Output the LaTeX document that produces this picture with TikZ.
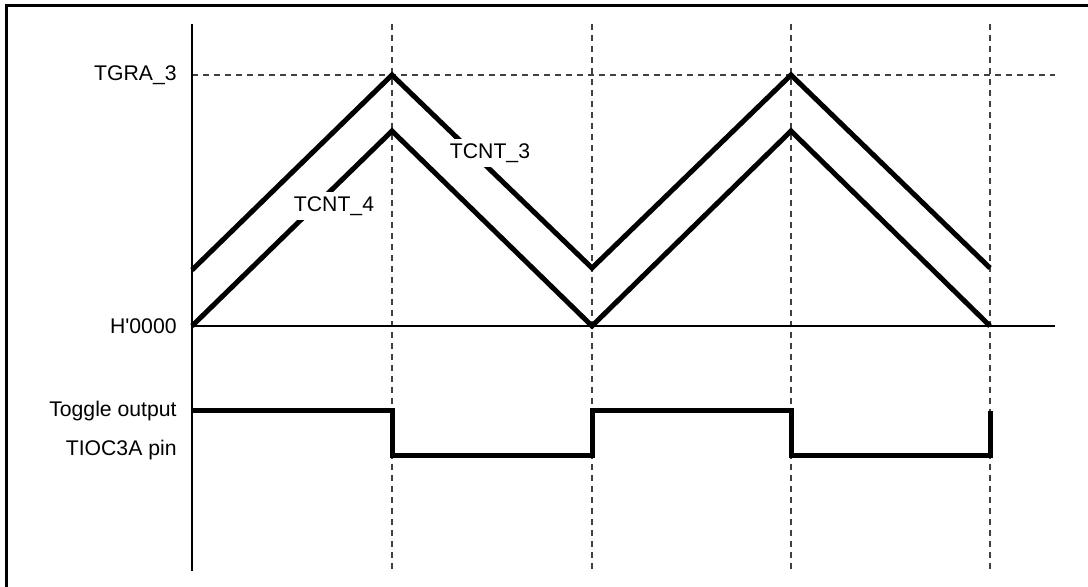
\documentclass[tikz,border=0pt]{standalone}
\usepackage{fontspec}
\setmainfont{Liberation Sans}
\begin{document}
\begin{tikzpicture}[x=0.5pt,y=-0.5pt,
  axisline/.style={line width=0.75pt,black},
  guide/.style={line width=0.75pt,black!75,dash pattern=on 3pt off 2.5pt},
  wave/.style={line width=2.5pt,black},
  lbl/.style={font=\fontsize{10.6}{12}\selectfont,inner sep=0pt,anchor=east},
  wavelbl/.style={font=\fontsize{10.6}{12}\selectfont,fill=white,inner sep=2pt}]
\useasboundingbox (0,0) rectangle (1088,587);
% frame
\draw[line width=1.5pt] (6,587) -- (6,6) -- (1088,6);
% guides
\foreach \x in {392,592,791,990} \draw[guide] (\x,24) -- (\x,571);
\draw[guide] (192,75) -- (1055,75);
% axes
\draw[axisline] (192,24) -- (192,571);
\draw[axisline] (192,326) -- (1055,326);
% waves
\draw[wave] (192,270) -- (392,75) -- (592,268) -- (791,75) -- (990,268);
\draw[wave] (192,326) -- (392,131) -- (592,326) -- (791,131) -- (990,326);
\draw[wave] (192,411) -- (392,411) -- (392,456) -- (592,456) -- (592,411) -- (791,411) -- (791,456) -- (990,456) -- (990,411);
% wave labels
\node[wavelbl] (tcnt4) at (334,206) {TCNT\_4};
\node[wavelbl] (tcnt3) at (490,153) {TCNT\_3};
% axis labels
\node[lbl] (tgra) at (177,75) {TGRA\_3};
\node[lbl] (h0) at (177,326) {H\textquotesingle 0000};
\node[lbl] (tog) at (177,411) {Toggle output};
\node[lbl] (pin) at (177,450) {TIOC3A pin};
\end{tikzpicture}
\end{document}
